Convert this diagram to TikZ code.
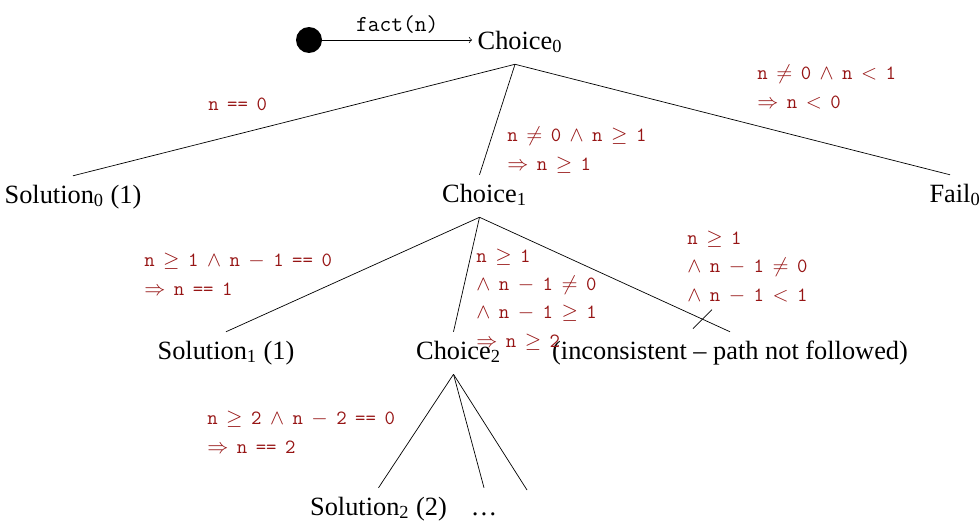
\documentclass[tikz,border=0pt]{standalone}
\usepackage{fontspec}
\setmainfont{Liberation Serif}
\definecolor{guard}{RGB}{150,20,20}
\protected\def\condspace{\spaceskip=0.42em\relax}
\begin{document}
\begin{tikzpicture}[x=0.02cm, y=-0.02cm, font=\fontsize{15}{18}\selectfont,
  tnode/.style={anchor=base, inner sep=3pt, text height=12.3pt, text depth=5.5pt},
  cond/.style={anchor=base west, align=left, inner sep=0pt, text=guard,
               font=\fontsize{11.5}{16}\selectfont\ttfamily\condspace},
  arr/.style={->}
]
  \useasboundingbox (0,0) rectangle (979,524);
  \node[circle, fill, minimum size=0.52cm, inner sep=0pt] (start) at (309,40) {};
  \node[tnode] (choice0) at (515,49) {Choice\rlap{\textsubscript{0}}};
  \draw[arr] (start) -- node[above, font=\fontsize{13}{15}\selectfont\ttfamily] (call) {fact(n)}
        (choice0.west |- start);
  \node[tnode] (sol0) at (73,203) {Solution\textsubscript{0} (1)};
  \node[tnode] (choice1) at (479.5,202) {Choice\rlap{\textsubscript{1}}};
  \node[tnode] (fail0) at (950,202) {Fail\rlap{\textsubscript{0}}};
  \node[tnode] (sol1) at (226,359) {Solution\textsubscript{1} (1)};
  \node[tnode] (choice2) at (453.5,359) {Choice\rlap{\textsubscript{2}}};
  \node[tnode] (incons) at (730,359) {(inconsistent -- path not followed)};
  \node[tnode] (sol2) at (378.5,515) {Solution\textsubscript{2} (2)};
  \node[tnode] (more) at (484,515) {\dots};
  \coordinate (rest) at (527,490);
  \draw (choice0.south) -- (sol0.north);
  \draw (choice0.south) -- (choice1.north);
  \draw (choice0.south) -- (fail0.north);
  \draw (choice1.south) -- (sol1.north);
  \draw (choice1.south) -- (choice2.north);
  \draw (choice1.south) -- coordinate[pos=0.89] (cut) (incons.north);
  \draw ([shift={(-9.5,9.5)}]cut) -- ([shift={(9.5,-9.5)}]cut);
  \draw (choice2.south) -- (sol2.north);
  \draw (choice2.south) -- (more.north);
  \draw (choice2.south) -- (rest);
  \node[cond] (g0) at (208,110) {n == 0};
  \node[cond] (g1) at (507,170) {n $\neq$ 0 $\wedge$ n $\geq$ 1\\$\Rightarrow$ n $\geq$ 1};
  \node[cond] (g2) at (757,108) {n $\neq$ 0 $\wedge$ n $<$ 1\\$\Rightarrow$ n $<$ 0};
  \node[cond] (g3) at (144,295) {n $\geq$ 1 $\wedge$ n $-$ 1 == 0\\$\Rightarrow$ n == 1};
  \node[cond] (g4) at (476,347) {n $\geq$ 1\\$\wedge$ n $-$ 1 $\neq$ 0\\$\wedge$ n $-$ 1 $\geq$ 1\\$\Rightarrow$ n $\geq$ 2};
  \node[cond] (g5) at (687,301) {n $\geq$ 1\\$\wedge$ n $-$ 1 $\neq$ 0\\$\wedge$ n $-$ 1 $<$ 1};
  \node[cond] (g6) at (207,453) {n $\geq$ 2 $\wedge$ n $-$ 2 == 0\\$\Rightarrow$ n == 2};
\end{tikzpicture}
\end{document}
